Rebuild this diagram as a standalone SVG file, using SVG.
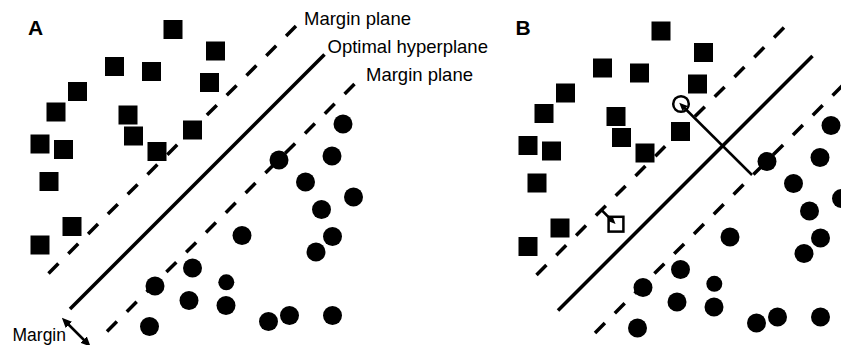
<svg xmlns="http://www.w3.org/2000/svg" xmlns:xlink="http://www.w3.org/1999/xlink" width="841" height="345" viewBox="0 0 841 345">
  <style>
    .sq { fill: #000; }
    .pt { fill: #000; }
    .plane { stroke: #000; stroke-width: 3.5; fill: none; stroke-linecap: butt; }
    .dash { stroke-dasharray: 14 14; }
    .arr { stroke: #000; stroke-width: 2.5; fill: none; }
    .lbl { font-family: "Liberation Sans", Arial, sans-serif; font-size: 18.5px; fill: #000; }
    .panel { font-family: "Liberation Sans", Arial, sans-serif; font-size: 21px; font-weight: bold; fill: #000; }
  </style>
  <defs>
    <marker id="ah" viewBox="0 0 10 9" refX="2" refY="4.5" markerWidth="10" markerHeight="9" markerUnits="userSpaceOnUse" orient="auto-start-reverse">
      <path d="M0,0 L10,4.5 L0,9 z" fill="#000"/>
    </marker>
    <marker id="ahs" viewBox="0 0 8 7" refX="2" refY="3.5" markerWidth="8" markerHeight="7" markerUnits="userSpaceOnUse" orient="auto">
      <path d="M0,0 L8,3.5 L0,7 z" fill="#000"/>
    </marker>
    <g id="squares">
      <rect class="sq" x="163.5" y="20" width="19" height="19"/>
      <rect class="sq" x="206" y="41.5" width="19" height="19"/>
      <rect class="sq" x="105" y="57" width="19" height="19"/>
      <rect class="sq" x="142" y="62" width="19" height="19"/>
      <rect class="sq" x="200" y="73" width="19" height="19"/>
      <rect class="sq" x="68" y="82" width="19" height="19"/>
      <rect class="sq" x="46.5" y="102.5" width="19" height="19"/>
      <rect class="sq" x="118.5" y="105.5" width="19" height="19"/>
      <rect class="sq" x="183" y="120.5" width="19" height="19"/>
      <rect class="sq" x="124" y="126.5" width="19" height="19"/>
      <rect class="sq" x="30.5" y="134.5" width="19" height="19"/>
      <rect class="sq" x="54" y="140" width="19" height="19"/>
      <rect class="sq" x="147.5" y="142" width="19" height="19"/>
      <rect class="sq" x="39.5" y="172" width="19" height="19"/>
      <rect class="sq" x="62.5" y="217" width="19" height="19"/>
      <rect class="sq" x="30.5" y="235.5" width="19" height="19"/>
    </g>
    <g id="circles">
      <circle class="pt" cx="343" cy="124" r="9.5"/>
      <circle class="pt" cx="332" cy="156" r="9.5"/>
      <circle class="pt" cx="279" cy="160" r="9.5"/>
      <circle class="pt" cx="305.5" cy="182" r="9.5"/>
      <circle class="pt" cx="353.5" cy="197" r="9.5"/>
      <circle class="pt" cx="321.5" cy="209.5" r="9.5"/>
      <circle class="pt" cx="332.5" cy="236.5" r="9.5"/>
      <circle class="pt" cx="316" cy="252" r="9.5"/>
      <circle class="pt" cx="242" cy="235.5" r="9.5"/>
      <circle class="pt" cx="192.5" cy="268" r="9.5"/>
      <circle class="pt" cx="226.3" cy="282.3" r="8"/>
      <circle class="pt" cx="155" cy="286" r="9.5"/>
      <circle class="pt" cx="189" cy="300.5" r="9.5"/>
      <circle class="pt" cx="226" cy="305.5" r="9.5"/>
      <circle class="pt" cx="268.5" cy="321.5" r="9.5"/>
      <circle class="pt" cx="289.5" cy="315.5" r="9.5"/>
      <circle class="pt" cx="332.5" cy="315.5" r="9.5"/>
      <circle class="pt" cx="149.5" cy="326.5" r="9.5"/>
    </g>
    <g id="planeset">
      <line class="plane dash" x1="48.5" y1="273.5" x2="299.5" y2="22.5"/>
      <line class="plane" x1="70" y1="309" x2="324.5" y2="54.5"/>
      <line class="plane dash" x1="107" y1="331.5" x2="358" y2="80.5"/>
    </g>
  </defs>

  <g id="panelA">
    <text class="panel" x="28" y="35">A</text>
    <g id="planesA"><use href="#planeset"/></g>
    <g id="squaresA"><use href="#squares"/></g>
    <g id="circlesA"><use href="#circles"/></g>
    <g id="labelsA">
      <text class="lbl" x="304" y="24.5">Margin plane</text>
      <text class="lbl" x="327.5" y="52.5">Optimal hyperplane</text>
      <text class="lbl" x="366" y="81">Margin plane</text>
      <text class="lbl" x="12.5" y="341" style="font-size:17.5px">Margin</text>
    </g>
    <g id="connectorsA">
      <line class="arr" x1="67.5" y1="323.5" x2="85" y2="341" marker-start="url(#ah)" marker-end="url(#ah)"/>
    </g>
  </g>

  <g id="panelB">
    <text class="panel" x="515.5" y="35">B</text>
    <g transform="translate(488,1.5)">
      <g id="planesB"><use href="#planeset"/></g>
      <g id="squaresB"><use href="#squares"/></g>
      <g id="circlesB"><use href="#circles"/></g>
      <g id="slackPoints">
        <circle cx="193" cy="102.5" r="7.8" fill="none" stroke="#000" stroke-width="2.5"/>
        <rect x="120.6" y="215.3" width="14.8" height="14.8" fill="none" stroke="#000" stroke-width="2.5"/>
      </g>
      <g id="connectorsB">
        <line class="arr" x1="264" y1="173.5" x2="195.5" y2="105.5" marker-end="url(#ahs)"/>
        <line class="arr" x1="113.5" y1="208.5" x2="123.3" y2="218.3" marker-end="url(#ahs)"/>
      </g>
    </g>
  </g>
</svg>
